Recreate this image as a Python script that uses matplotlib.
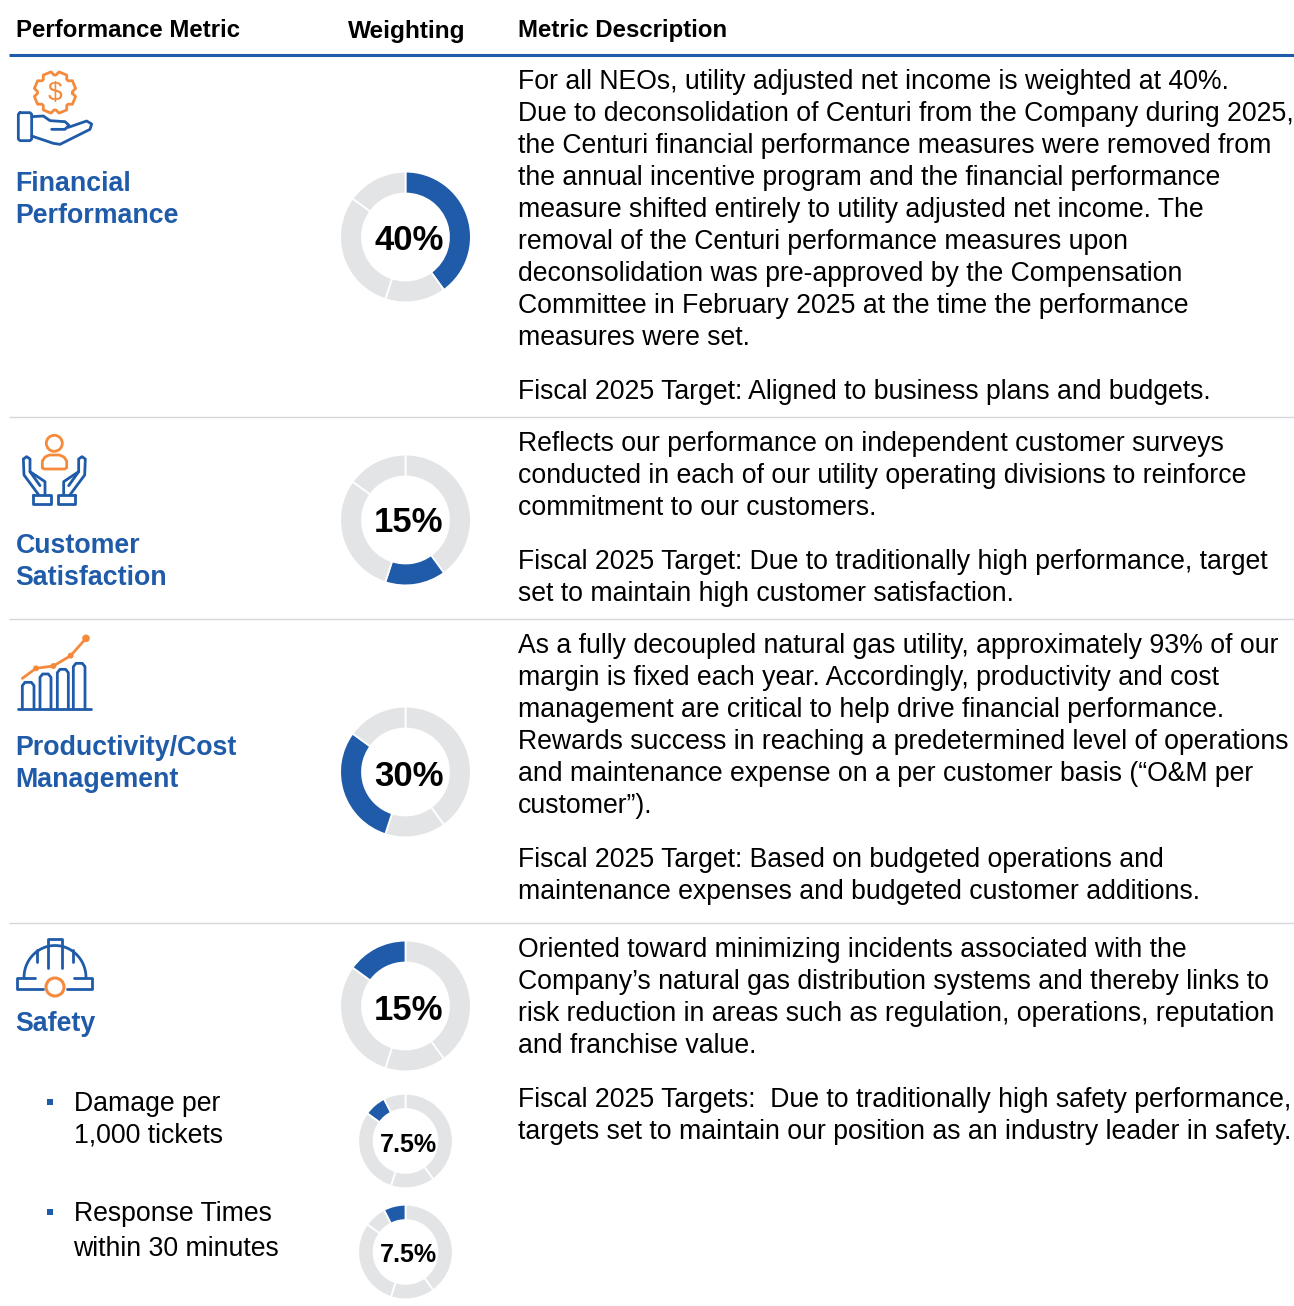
import numpy as np
import matplotlib.pyplot as plt
from matplotlib.patches import Circle, Rectangle

plt.rcParams['font.family'] = ['Liberation Sans', 'DejaVu Sans']

W, H = 1294, 1306
BLUE = '#1F5BA8'
ORANGE = '#F58A3C'
GRAY = '#E3E4E6'
RULE = '#D5D7D9'

# donut data, clockwise from 12 o'clock
shares = [40, 15, 30, 15]
shares_split_a = [40, 15, 30, 7.5, 7.5]
shares_split_b = [40, 15, 30, 7.5, 7.5]
highlight = [0, 1, 2, 3, 3, 4]
donut_labels = ['40%', '15%', '30%', '15%', '7.5%', '7.5%']

headers = ['Performance Metric', 'Weighting', 'Metric Description']
metric_names = [['Financial', 'Performance'], ['Customer', 'Satisfaction'],
                ['Productivity/Cost', 'Management'], ['Safety']]
sub_metrics = [['Damage per', '1,000 tickets'], ['Response Times', 'within 30 minutes']]

desc1 = ['For all NEOs, utility adjusted net income is weighted at 40%.',
         'Due to deconsolidation of Centuri from the Company during 2025,',
         'the Centuri financial performance measures were removed from',
         'the annual incentive program and the financial performance',
         'measure shifted entirely to utility adjusted net income. The',
         'removal of the Centuri performance measures upon',
         'deconsolidation was pre-approved by the Compensation',
         'Committee in February 2025 at the time the performance',
         'measures were set.']
target1 = ['Fiscal 2025 Target: Aligned to business plans and budgets.']
desc2 = ['Reflects our performance on independent customer surveys',
         'conducted in each of our utility operating divisions to reinforce',
         'commitment to our customers.']
target2 = ['Fiscal 2025 Target: Due to traditionally high performance, target',
           'set to maintain high customer satisfaction.']
desc3 = ['As a fully decoupled natural gas utility, approximately 93% of our',
         'margin is fixed each year. Accordingly, productivity and cost',
         'management are critical to help drive financial performance.',
         'Rewards success in reaching a predetermined level of operations',
         'and maintenance expense on a per customer basis (“O&M per',
         'customer”).']
target3 = ['Fiscal 2025 Target: Based on budgeted operations and',
           'maintenance expenses and budgeted customer additions.']
desc4 = ['Oriented toward minimizing incidents associated with the',
         'Company’s natural gas distribution systems and thereby links to',
         'risk reduction in areas such as regulation, operations, reputation',
         'and franchise value.']
target4 = ['Fiscal 2025 Targets:  Due to traditionally high safety performance,',
           'targets set to maintain our position as an industry leader in safety.']

fig = plt.figure(figsize=(W / 100, H / 100), dpi=100)


def donut(cx, cy, r, values, hot, hole):
    ax = fig.add_axes([(cx - r) / W, 1 - (cy + r) / H, 2 * r / W, 2 * r / H])
    colors = [BLUE if i == hot else GRAY for i in range(len(values))]
    ax.pie(values, colors=colors, startangle=90, counterclock=False, radius=1,
           wedgeprops=dict(width=1 - hole, edgecolor='white', linewidth=1.3))
    ax.set_xlim(-1, 1)
    ax.set_ylim(-1, 1)


donut(405.5, 237, 65.4, shares, highlight[0], 0.665)
donut(405.5, 520, 65.4, shares, highlight[1], 0.665)
donut(405.5, 772, 65.4, shares, highlight[2], 0.665)
donut(405.5, 1006, 65.4, shares, highlight[3], 0.665)
donut(405.5, 1141, 47.3, shares_split_a, highlight[4], 0.675)
donut(405.5, 1252, 47.3, shares_split_b, highlight[5], 0.675)

# overlay in pixel coordinates for the table text and icons
ax = fig.add_axes([0, 0, 1, 1], zorder=5)
ax.set_xlim(0, W)
ax.set_ylim(H, 0)
ax.axis('off')
ax.patch.set_alpha(0)


def lines(x, y, rows, pitch=32, **kw):
    kw.setdefault('fontsize', 19.14)
    kw.setdefault('color', 'black')
    for i, row in enumerate(rows):
        ax.text(x, y + i * pitch + 9, row, va='baseline', ha='left', **kw)


# header
ax.text(16, 37, headers[0], fontsize=17.3, fontweight='bold', va='baseline')
ax.text(348, 38, headers[1], fontsize=17.6, fontweight='bold', va='baseline')
ax.text(518, 37, headers[2], fontsize=17.3, fontweight='bold', va='baseline')

ax.plot([9, 1294], [55, 55], color=BLUE, lw=2.2, solid_capstyle='butt')
for y in [417, 619, 923]:
    ax.plot([9, 1294], [y, y], color=RULE, lw=1.0, solid_capstyle='butt')

# metric names
for rows, y in zip(metric_names, [182, 544, 746, 1022]):
    lines(15.6, y, rows, fontweight='bold', color=BLUE, fontsize=19.3)

# safety sub metrics
lines(73.5, 1102, sub_metrics[0])
ax.text(73.5, 1221, sub_metrics[1][0], fontsize=19.14, va='baseline')
ax.text(73.5, 1256, sub_metrics[1][1], fontsize=19.14, va='baseline')
for y in [1102, 1212]:
    ax.add_patch(Rectangle((46.5, y - 3), 6, 6, color=BLUE, lw=0))

# descriptions
for rows, y in [(desc1, 80), (target1, 390), (desc2, 442), (target2, 560),
                (desc3, 644), (target3, 858), (desc4, 948), (target4, 1098)]:
    lines(518, y, rows)

# donut labels
for label, x, y, size in zip(donut_labels, [409, 409, 409, 409, 408, 408],
                             [241, 523, 777, 1010, 1145, 1255],
                             [25, 25, 25, 25, 18, 18]):
    ax.text(x, y, label, fontsize=size, fontweight='bold', ha='center', va='center')

ICON_LW = 2.0
ikw = dict(lw=ICON_LW, solid_capstyle='round', solid_joinstyle='round')


def stroke(pts, color=BLUE, ox=0, oy=0, closed=False):
    # pts are in 3x zoom units of the crop at (ox, oy)
    p = np.array(pts, dtype=float) / 3 + [ox, oy]
    if closed:
        p = np.vstack([p, p[:1]])
    ax.plot(p[:, 0], p[:, 1], color=color, **ikw)


# hand with gear
ox, oy = 0, 50
gear_a, gear_r = [], []
for k in range(8):
    c = k * np.pi / 4 + np.pi / 8
    gear_a += [c - 0.34, c - 0.20, c + 0.20, c + 0.34]
    gear_r += [17.5, 21, 21, 17.5]
gear_a = np.array(gear_a + gear_a[:1])
gear_r = np.array(gear_r + gear_r[:1])
ax.plot(55 + gear_r * np.cos(gear_a), 92.5 + gear_r * np.sin(gear_a), color=ORANGE, **ikw)
ax.text(55, 93, '$', color=ORANGE, fontsize=19, ha='center', va='center')
stroke([(60, 188), (90, 188), (95, 193), (95, 267), (90, 272), (60, 272), (55, 267),
        (55, 193)], ox=ox, oy=oy, closed=True)
stroke([(95, 200), (130, 198), (150, 212), (195, 215), (207, 226), (195, 238), (155, 238)],
       ox=ox, oy=oy)
stroke([(205, 232), (260, 213), (275, 222), (270, 238), (180, 283), (160, 280), (95, 258)],
       ox=ox, oy=oy)

# hands with person
ox, oy = 0, 425
ax.add_patch(Circle((54.3, 443.3), 8, fc='none', ec=ORANGE, lw=ICON_LW))
stroke([(127, 128), (127, 108), (135, 96), (148, 90), (178, 90), (192, 96), (200, 108), (200, 128),
        (195, 132), (132, 132)], color=ORANGE, ox=ox, oy=oy, closed=True)
for sx in [0, 1]:
    pts_hand = [(115, 208), (72, 150), (70, 102), (80, 95), (90, 102), (90, 140),
                (135, 170), (135, 208)]
    pts_in = [(90, 140), (120, 182)]
    pts_cuff = [(100, 210), (152, 210), (152, 238), (100, 238)]
    if sx:
        pts_hand = [(326 - a, b) for a, b in pts_hand]
        pts_in = [(326 - a, b) for a, b in pts_in]
        pts_cuff = [(326 - a, b) for a, b in pts_cuff]
    stroke(pts_hand, ox=ox, oy=oy)
    stroke(pts_in, ox=ox, oy=oy)
    stroke(pts_cuff, ox=ox, oy=oy, closed=True)

# growth bars
ox, oy = 0, 625
stroke([(55, 252), (272, 252)], ox=ox, oy=oy)
for x0, x1, top in [(67, 102, 172), (120, 153, 147), (172, 205, 133), (220, 255, 115)]:
    stroke([(x0, 250), (x0, top + 10), (x0 + 8, top), (x1 - 8, top), (x1, top + 10), (x1, 250)],
           ox=ox, oy=oy)
trend = np.array([(67, 160), (108, 130), (160, 123), (212, 92), (258, 40)], dtype=float) / 3 + [ox, oy]
ax.plot(trend[:, 0], trend[:, 1], color=ORANGE, **ikw)
ax.scatter(trend[1:, 0], trend[1:, 1], s=[18, 18, 18, 30], color=ORANGE, lw=0, zorder=3)

# hard hat
ox, oy = 0, 930
arc = np.linspace(np.pi, 2 * np.pi, 40)
ax.plot(55 + 31 * np.cos(arc), 977.5 + 32 * np.sin(arc), color=BLUE, **ikw)
stroke([(145, 115), (145, 27), (185, 27), (185, 115)], ox=ox, oy=oy)
stroke([(110, 60), (110, 95)], ox=ox, oy=oy)
stroke([(218, 60), (218, 95)], ox=ox, oy=oy)
stroke([(105, 145), (52, 145), (52, 178), (130, 178)], ox=ox, oy=oy)
stroke([(222, 145), (277, 145), (277, 178), (200, 178)], ox=ox, oy=oy)
ax.add_patch(Circle((55, 987), 9, fc='none', ec=ORANGE, lw=ICON_LW + 0.2))

fig.savefig('out.png', dpi=100)
